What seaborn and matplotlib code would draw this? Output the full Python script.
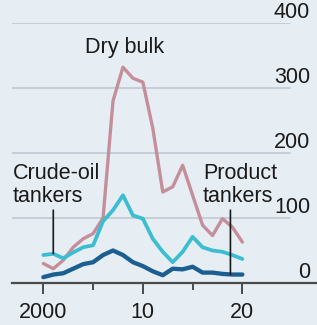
import matplotlib
matplotlib.use("Agg")
import matplotlib.pyplot as plt
import numpy as np
import pandas as pd
import seaborn as sns

# ─────────────────────────────────────────────────────────────────
# Data
# ─────────────────────────────────────────────────────────────────
years = list(range(2000, 2021))
dry_bulk = [30, 22, 35, 55, 68, 76, 100, 280, 332, 315, 309,
            238, 140, 148, 181, 135, 89, 73, 99, 86, 63]
crude_oil = [43, 45, 38, 47, 55, 58, 95, 112, 135, 104, 99,
             68, 48, 32, 48, 71, 55, 50, 48, 43, 37]
product = [9, 13, 15, 22, 29, 32, 43, 50, 43, 32, 26,
           18, 12, 22, 21, 25, 16, 16, 14, 13, 13]

series_names = ["Dry bulk", "Crude-oil tankers", "Product tankers"]
y_ticks = [0, 100, 200, 300, 400]
x_ticks_major = [2000, 2010, 2020]
x_tick_labels = ["2000", "10", "20"]
x_ticks_minor = [2005, 2015]

BG = "#e6edf3"
GRID = "#c6cfd8"
TEXT = "#1a1a1a"
colors = {"Dry bulk": "#c58e9b",
          "Crude-oil tankers": "#3cbdd1",
          "Product tankers": "#1b5e91"}
widths = {"Dry bulk": 2.4, "Crude-oil tankers": 2.7, "Product tankers": 3.1}

df = pd.DataFrame({
    "year": years * 3,
    "value": dry_bulk + crude_oil + product,
    "series": sum([[n] * len(years) for n in series_names], []),
})

sns.set_theme(style="white")
plt.rcParams["font.family"] = ["Liberation Sans", "DejaVu Sans"]

W, H = 317, 325
fig = plt.figure(figsize=(W / 100, H / 100), dpi=100, facecolor=BG)
ax = fig.add_axes([12 / W, 42 / H, (W - 12) / W, 260 / H])
ax.set_facecolor(BG)

# gridlines (stop short of the right-hand labels)
for v in y_ticks[1:]:
    ax.axhline(v, xmin=0, xmax=0.911, color=GRID, lw=1.4, zorder=0)

for name in series_names:
    sub = df[df["series"] == name]
    sns.lineplot(data=sub, x="year", y="value", ax=ax, color=colors[name],
                 lw=widths[name], legend=False, zorder=3)

ax.set_xlim(1996.85, 2027.5)
ax.set_ylim(0, 400)

for s in ["top", "left", "right"]:
    ax.spines[s].set_visible(False)
ax.spines["bottom"].set_color("#4a4a4a")
ax.spines["bottom"].set_linewidth(1.6)
ax.spines["bottom"].set_zorder(4)

ax.set_xticks(x_ticks_major)
ax.set_xticklabels(x_tick_labels)
ax.set_xticks(x_ticks_minor, minor=True)
ax.tick_params(axis="x", which="major", length=8, width=1.4, color="#4a4a4a",
               labelsize=15.5, labelcolor=TEXT, pad=5.5, bottom=True)
ax.tick_params(axis="x", which="minor", length=5, width=1.4, color="#4a4a4a",
               bottom=True)

ax.yaxis.tick_right()
ax.set_yticks(y_ticks)
ax.set_yticklabels([str(v) for v in y_ticks])
ax.tick_params(axis="y", length=0, labelsize=15.5, labelcolor=TEXT, pad=-5)
for lab in ax.get_yticklabels():
    lab.set_horizontalalignment("right")
    lab.set_verticalalignment("bottom")
ax.set_xlabel("")
ax.set_ylabel("")

# labels
ax.text(2008.2, 363, "Dry bulk", ha="center", va="center", fontsize=15.5,
        color=TEXT)
ax.text(1996.95, 151, "Crude-oil\ntankers", ha="left", va="center",
        fontsize=15.5, color=TEXT, linespacing=1.15)
ax.text(2016.05, 151, "Product\ntankers", ha="left", va="center",
        fontsize=15.5, color=TEXT, linespacing=1.15)

# pointer lines
i_crude = years.index(2001)
ax.annotate("", xy=(years[i_crude], crude_oil[i_crude]), xytext=(years[i_crude], 112),
            arrowprops=dict(arrowstyle="-", color=TEXT, lw=1.2, shrinkA=0, shrinkB=0),
            zorder=5)
i_prod = years.index(2019)
ax.annotate("", xy=(2018.8, product[i_prod]), xytext=(2018.8, 112),
            arrowprops=dict(arrowstyle="-", color=TEXT, lw=1.2, shrinkA=0, shrinkB=0),
            zorder=5)

fig.savefig("out.png", dpi=100, facecolor=BG)
